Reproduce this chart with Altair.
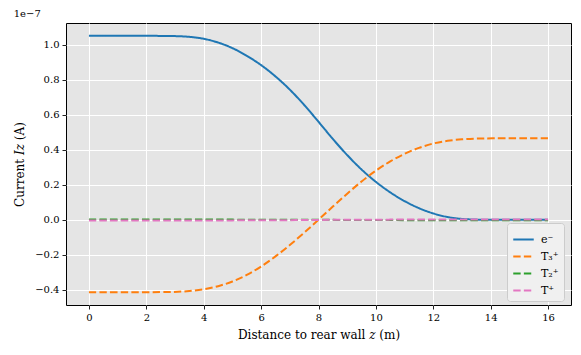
import altair as alt
import pandas as pd

z = [0, 1, 2, 3, 3.5, 4, 4.5, 5, 5.5, 6, 6.5, 7, 7.5, 8, 8.5, 9, 9.5, 10,
     10.5, 11, 11.5, 12, 12.5, 13, 13.5, 14, 15, 16]
e_minus = [1.050, 1.050, 1.050, 1.049, 1.045, 1.035, 1.013, 0.982, 0.937, 0.885,
           0.820, 0.745, 0.657, 0.560, 0.460, 0.368, 0.285, 0.215, 0.155, 0.105,
           0.065, 0.035, 0.014, 0.004, 0.001, 0.0, 0.0, 0.0]
t3_plus = [-0.413, -0.413, -0.413, -0.412, -0.407, -0.398, -0.380, -0.354, -0.316,
           -0.268, -0.210, -0.145, -0.074, 0.0, 0.076, 0.150, 0.220, 0.282, 0.335,
           0.378, 0.412, 0.437, 0.452, 0.460, 0.464, 0.465, 0.465, 0.465]
t2_plus = [0.002, 0.002, 0.002, 0.002, 0.002, 0.002, 0.002, 0.001, 0.001, 0.001,
           0.001, 0.0, 0.0, 0.0, 0.0, -0.001, -0.001, -0.001, -0.001, -0.002,
           -0.002, -0.002, -0.002, -0.002, -0.002, -0.002, -0.002, -0.002]
t_plus = [-0.004, -0.004, -0.004, -0.004, -0.004, -0.004, -0.004, -0.003, -0.003,
          -0.003, -0.002, -0.002, -0.001, -0.001, 0.0, 0.0, 0.001, 0.001, 0.001,
          0.002, 0.002, 0.002, 0.002, 0.002, 0.002, 0.002, 0.002, 0.002]

series = ["e\u207b", "T\u2083\u207a", "T\u2082\u207a", "T\u207a"]
colors = ["#1f77b4", "#ff7f0e", "#2ca02c", "#e377c2"]
dashes = [[1, 0], [7.4, 3.2], [7.4, 3.2], [7.4, 3.2]]
x_ticks = [0, 2, 4, 6, 8, 10, 12, 14, 16]
y_ticks = [-0.4, -0.2, 0.0, 0.2, 0.4, 0.6, 0.8, 1.0]

rows = []
for k, (name, vals) in enumerate(zip(series, [e_minus, t3_plus, t2_plus, t_plus])):
    for zz, v in zip(z, vals):
        rows.append({"z": zz, "I": v, "species": name, "order": k})
df = pd.DataFrame(rows)

font = "DejaVu Serif"

chart = alt.Chart(df).mark_line(strokeWidth=2, interpolate="basis").encode(
    x=alt.X("z:Q", scale=alt.Scale(domain=[-0.8, 16.8], nice=False, zero=False),
            axis=alt.Axis(values=x_ticks, format="d",
                          title="Distance to rear wall \U0001D467 (m)")),
    y=alt.Y("I:Q", scale=alt.Scale(domain=[-0.486, 1.123], nice=False, zero=False),
            axis=alt.Axis(values=y_ticks, format=".1f",
                          title="Current \U0001D43C\U0001D467 (A)")),
    color=alt.Color("species:N", scale=alt.Scale(domain=series, range=colors),
                    sort=series,
                    legend=alt.Legend(title=None, orient="none", legendX=441, legendY=200,
                                      symbolType="stroke", symbolSize=420,
                                      symbolStrokeWidth=2, fillColor="#F0F0F0",
                                      strokeColor="#CCCCCC", cornerRadius=3,
                                      padding=5, rowPadding=0, labelFont=font,
                                      labelFontSize=11, labelColor="black",
                                      labelOffset=6)),
    strokeDash=alt.StrokeDash("species:N", scale=alt.Scale(domain=series, range=dashes),
                              sort=series, legend=None),
    detail="species:N",
    order="order:Q",
).properties(
    width=505, height=282,
    title=alt.TitleParams("1e\u22127", anchor="start", fontSize=10, font=font,
                          fontWeight="normal", color="black", offset=4),
    autosize=alt.AutoSizeParams(type="none"),
    padding={"left": 58, "top": 15, "right": 2, "bottom": 42},
).configure_view(
    fill="#E5E5E5", stroke="black", strokeWidth=1
).configure_axis(
    grid=True, gridColor="white", gridWidth=1, domain=False,
    tickColor="#222222", tickSize=4, labelFont=font, labelFontSize=10,
    labelColor="black", titleFont=font, titleFontSize=12, titleFontWeight="normal",
    titleColor="black", labelPadding=3
).configure_axisX(titlePadding=7).configure_axisY(titlePadding=8)

chart.save("out.html", embed_options={"renderer": "svg", "actions": False})
